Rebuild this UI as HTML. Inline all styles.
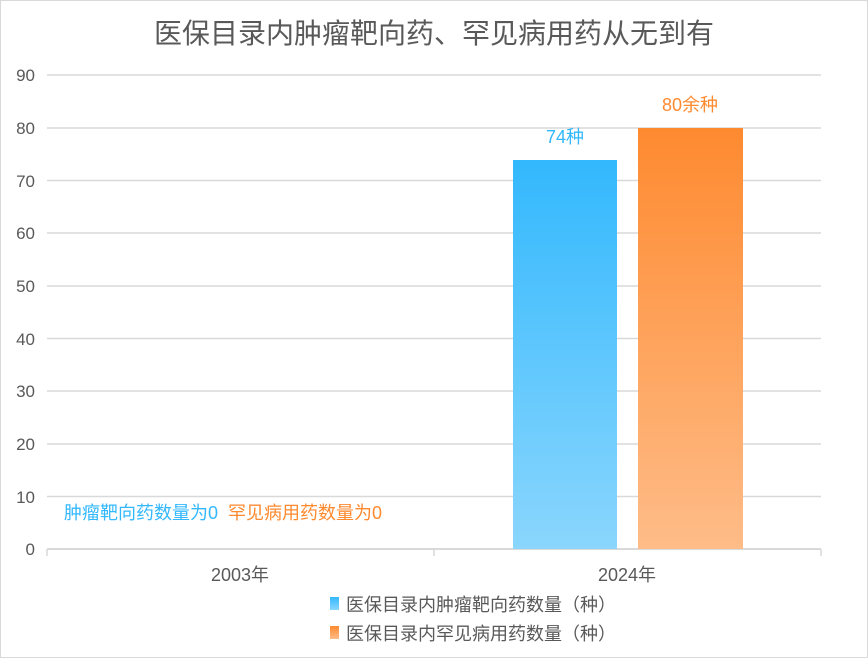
<!DOCTYPE html><html><head><meta charset="utf-8"><style>
body{margin:0;width:868px;height:658px;background:#fff;font-family:"Liberation Sans","Noto Sans CJK SC",sans-serif;overflow:hidden}
.f{position:absolute;left:0;top:0;width:866px;height:656px;border:1px solid #d9d9d9}
</style></head><body><div class="f"></div>
<svg width="868" height="658" style="position:absolute;left:0;top:0" font-family="Liberation Sans,Noto Sans CJK SC,sans-serif">
<defs>
<linearGradient id="b" x1="0" y1="0" x2="0" y2="1"><stop offset="0" stop-color="#33b8fd"/><stop offset="1" stop-color="#8ad6fd"/></linearGradient>
<linearGradient id="o" x1="0" y1="0" x2="0" y2="1"><stop offset="0" stop-color="#fe8a30"/><stop offset="1" stop-color="#febc88"/></linearGradient>
</defs>
<text x="434" y="43" text-anchor="middle" font-size="28" fill="#595959">医保目录内肿瘤靶向药、罕见病用药从无到有</text>
<g stroke="#d9d9d9" stroke-width="1.5">
<line x1="47" x2="821" y1="75" y2="75"/><line x1="47" x2="821" y1="128" y2="128"/><line x1="47" x2="821" y1="180.5" y2="180.5"/><line x1="47" x2="821" y1="233" y2="233"/><line x1="47" x2="821" y1="286" y2="286"/><line x1="47" x2="821" y1="338.5" y2="338.5"/><line x1="47" x2="821" y1="391" y2="391"/><line x1="47" x2="821" y1="444" y2="444"/><line x1="47" x2="821" y1="496.5" y2="496.5"/>
<line x1="47" x2="821" y1="549" y2="549" stroke-width="2"/>
<line x1="47" x2="47" y1="549" y2="556"/><line x1="434" x2="434" y1="549" y2="556"/><line x1="821" x2="821" y1="549" y2="556"/>
</g>
<g font-size="17" fill="#595959" text-anchor="end">
<text x="35" y="81">90</text><text x="35" y="134">80</text><text x="35" y="187">70</text><text x="35" y="239">60</text><text x="35" y="292">50</text><text x="35" y="345">40</text><text x="35" y="397">30</text><text x="35" y="450">20</text><text x="35" y="503">10</text><text x="35" y="555">0</text>
</g>
<rect x="513" y="160" width="104" height="389" fill="url(#b)"/>
<rect x="638" y="128" width="105" height="421" fill="url(#o)"/>
<text x="565" y="143" text-anchor="middle" font-size="18" fill="#33b8fd">74种</text>
<text x="690" y="111" text-anchor="middle" font-size="18" fill="#fe8a30">80余种</text>
<text x="64" y="519" font-size="18" fill="#33b8fd">肿瘤靶向药数量为0</text>
<text x="228" y="519" font-size="18" fill="#fe8a30">罕见病用药数量为0</text>
<text x="240" y="581" text-anchor="middle" font-size="18" fill="#595959">2003年</text>
<text x="627" y="581" text-anchor="middle" font-size="18" fill="#595959">2024年</text>
<rect x="330" y="597" width="9" height="13" fill="url(#b)"/>
<rect x="330" y="626" width="9" height="13" fill="url(#o)"/>
<text x="346" y="611" font-size="18" fill="#595959">医保目录内肿瘤靶向药数量（种）</text>
<text x="346" y="640" font-size="18" fill="#595959">医保目录内罕见病用药数量（种）</text>
</svg></body></html>
